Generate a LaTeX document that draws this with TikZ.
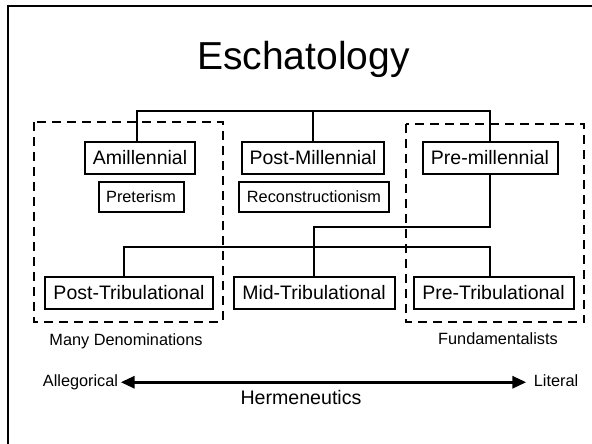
\documentclass[tikz,border=0pt]{standalone}
\usepackage{fontspec}
\setmainfont{Liberation Sans}
\usetikzlibrary{arrows.meta}

\begin{document}
\begin{tikzpicture}[
    x=1pt, y=-1pt,
    box/.style={draw, line width=2pt, inner sep=0pt, minimum height=32pt, font=\fontsize{19.5}{23}\selectfont},
    subbox/.style={draw, line width=2pt, inner sep=0pt, minimum height=29.5pt, font=\fontsize{16.3}{19}\selectfont},
    group/.style={draw, line width=2pt, dash pattern=on 9pt off 6pt},
    link/.style={line width=1.8pt},
    lbl/.style={inner sep=0pt, text height=12pt, text depth=3.5pt, font=\fontsize{16.3}{19}\selectfont},
    hermarrow/.style={{Triangle[length=14pt,width=12pt]}-{Triangle[length=14pt,width=12pt]}, line width=3pt},
]

% Frame
\useasboundingbox (0,0) rectangle (592,444);
\draw[line width=2pt] (8,444) |- (592,6);

% Title
\node[font=\fontsize{39}{46}\selectfont, anchor=base] (title) at (303.5,70) {Eschatology};

% Groups
\draw[group] (34,122) rectangle (222.7,321.7);
\draw[group] (406,124.3) rectangle (584.3,322.3);

% Millennial views
\node[box, minimum width=110pt] (amil) at (140,158) {Amillennial};
\node[box, minimum width=142pt] (postmil) at (313,158) {Post-Millennial};
\node[box, minimum width=135pt] (premil) at (490,158) {Pre-millennial};
\node[subbox, minimum width=85pt] (preterism) at (141,197) {Preterism};
\node[subbox, minimum width=150pt] (recon) at (314,197) {Reconstructionism};

% Tribulation views
\node[box, minimum width=168pt] (posttrib) at (129,293) {Post-Tribulational};
\node[box, minimum width=161pt] (midtrib) at (314,293) {Mid-Tribulational};
\node[box, minimum width=160pt] (pretrib) at (493.5,293) {Pre-Tribulational};

% Tree
\coordinate (topbar) at (313,111);
\draw[link] ([xshift=-3pt]amil.north) |- (topbar) -| (premil.north);
\draw[link] (topbar) -- (postmil.north);
\coordinate (split) at (490,226.7);
\draw[link] (premil.south) -- (split) -| (midtrib.north);
\coordinate (fork) at (314,246.7);
\draw[link] ([xshift=-5pt]posttrib.north) |- (fork) -| ([xshift=-3.5pt]pretrib.north);

% Group labels
\node[lbl, anchor=base] (manyden) at (126,345) {Many Denominations};
\node[lbl, anchor=base] (fundam) at (498,344) {Fundamentalists};

% Hermeneutics
\node[lbl, anchor=base east] (alleg) at (118.3,386.5) {Allegorical};
\node[lbl, anchor=base west] (literal) at (533.7,386.5) {Literal};
\draw[hermarrow] ([xshift=2.4pt]alleg.east) -- ([xshift=-7.4pt]literal.west);
\node[font=\fontsize{19.6}{23}\selectfont, anchor=base] (herm) at (301,404) {Hermeneutics};

\end{tikzpicture}
\end{document}
